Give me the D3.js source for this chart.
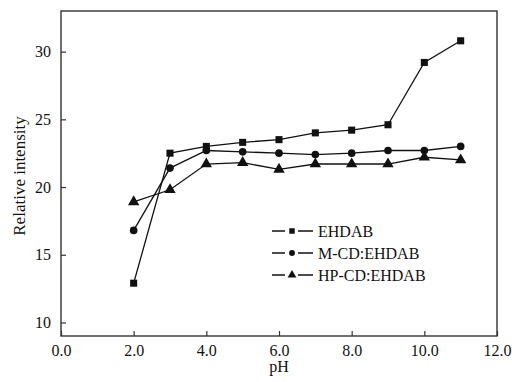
<!DOCTYPE html>
<html>
<head>
  <meta charset="utf-8">
  <script src="https://d3js.org/d3.v7.min.js"></script>
  <style>
    body { margin: 0px; background: #fff; overflow: hidden; }
    svg { display: block; }
    svg text { font-family: "Liberation Serif", "Times New Roman", serif; fill: #111; }
    .domain { display: none; }
    .tick line { stroke: #333; stroke-width: 1.2; }
    .tick text { font-size: 16px; }
  </style>
</head>
<body>
  <svg width="512" height="382"></svg>
  <script>
    const phValues = [2, 3, 4, 5, 6, 7, 8, 9, 10, 11];
    const ehdab = [12.9, 22.5, 23.0, 23.3, 23.5, 24.0, 24.2, 24.6, 29.2, 30.8];
    const mcdEhdab = [16.8, 21.4, 22.7, 22.6, 22.5, 22.4, 22.5, 22.7, 22.7, 23.0];
    const hpcdEhdab = [18.9, 19.8, 21.7, 21.8, 21.3, 21.7, 21.7, 21.7, 22.2, 22.0];
    const seriesNames = ['EHDAB', 'M-CD:EHDAB', 'HP-CD:EHDAB'];
    const xTicks = [0, 2, 4, 6, 8, 10, 12];
    const yTicks = [10, 15, 20, 25, 30];

    const margin = { left: 61, right: 15, top: 11, bottom: 46 };
    const svg = d3.select('svg');
    const width = +svg.attr('width');
    const height = +svg.attr('height');
    const innerWidth = width - margin.left - margin.right;
    const innerHeight = height - margin.top - margin.bottom;

    const g = svg.append('g')
      .attr('transform', `translate(${margin.left},${margin.top})`);

    const xScale = d3.scaleLinear().domain([0, 12]).range([0, innerWidth]);
    const yScale = d3.scaleLinear().domain([9, 33]).range([innerHeight, 0]);

    // frame
    g.append('rect')
      .attr('width', innerWidth)
      .attr('height', innerHeight)
      .attr('fill', 'none')
      .attr('stroke', '#333')
      .attr('stroke-width', 1.4);

    const xAxis = d3.axisBottom(xScale)
      .tickValues(xTicks)
      .tickFormat(d3.format('.1f'))
      .tickSizeInner(-5)
      .tickSizeOuter(0)
      .tickPadding(9);
    const yAxis = d3.axisLeft(yScale)
      .tickValues(yTicks)
      .tickSizeInner(-5)
      .tickSizeOuter(0)
      .tickPadding(10);

    g.append('g')
      .attr('transform', `translate(0,${innerHeight})`)
      .call(xAxis);
    g.append('g').call(yAxis);

    g.append('text')
      .attr('x', innerWidth / 2)
      .attr('y', innerHeight + 36)
      .attr('text-anchor', 'middle')
      .style('font-size', '16px')
      .text('pH');

    g.append('text')
      .attr('transform', 'rotate(-90)')
      .attr('x', -(176 - margin.top))
      .attr('y', -36)
      .attr('text-anchor', 'middle')
      .style('font-size', '17px')
      .text('Relative intensity');

    const seriesData = [ehdab, mcdEhdab, hpcdEhdab];
    const shapes = [d3.symbolSquare, d3.symbolCircle, d3.symbolTriangle];
    const sizes = [50, 46, 56];

    const line = d3.line()
      .x((d, i) => xScale(phValues[i]))
      .y(d => yScale(d));

    seriesData.forEach((vals, s) => {
      g.append('path')
        .datum(vals)
        .attr('fill', 'none')
        .attr('stroke', '#111')
        .attr('stroke-width', 1.3)
        .attr('d', line);
      g.selectAll('.pt' + s).data(vals)
        .enter().append('path')
        .attr('class', 'pt' + s)
        .attr('transform', (d, i) => `translate(${xScale(phValues[i])},${yScale(d)})`)
        .attr('d', d3.symbol().type(shapes[s]).size(sizes[s]))
        .attr('fill', '#111');
    });

    // legend
    const legendG = g.append('g')
      .attr('transform', `translate(${272 - margin.left},${231 - margin.top})`);
    seriesNames.forEach((name, s) => {
      const row = legendG.append('g').attr('transform', `translate(0,${s * 22})`);
      row.append('line').attr('x1', 0).attr('x2', 13).attr('y1', 0).attr('y2', 0)
        .attr('stroke', '#111').attr('stroke-width', 1.5);
      row.append('line').attr('x1', 26).attr('x2', 41).attr('y1', 0).attr('y2', 0)
        .attr('stroke', '#111').attr('stroke-width', 1.5);
      row.append('path')
        .attr('transform', 'translate(20,0)')
        .attr('d', d3.symbol().type(shapes[s]).size(sizes[s] * 0.6))
        .attr('fill', '#111');
      row.append('text')
        .attr('x', 46)
        .attr('y', 0)
        .attr('dy', '0.35em')
        .style('font-size', '16px')
        .text(name);
    });
  </script>
</body>
</html>
